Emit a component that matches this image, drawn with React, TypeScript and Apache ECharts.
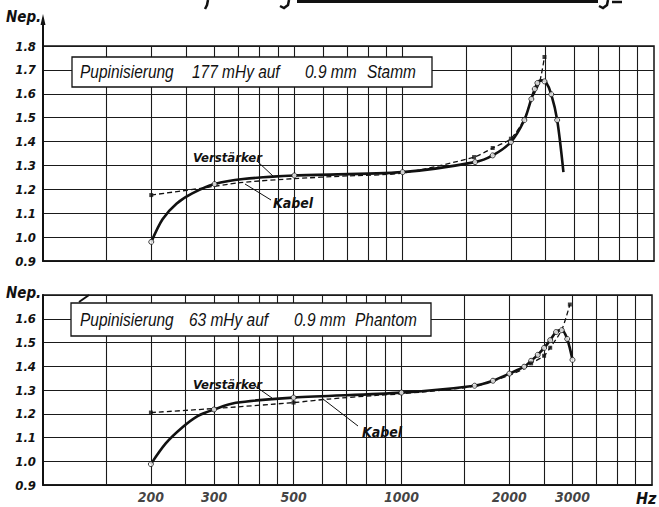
import React, { useEffect, useRef } from "react";
import * as echarts from "echarts";

// ---------- data ----------
const xGridLines = [150, 200, 250, 300, 350, 400, 450, 500, 600, 700, 800, 900, 1000, 1500, 2000, 2500, 3000, 3500, 4000, 4500];
const xTickLabels = [200, 300, 500, 1000, 2000, 3000];

// top panel: Stamm (177 mHy)
const topSolidCurve: number[][] = [
  [200, 0.98], [215, 1.075], [235, 1.14], [260, 1.183], [300, 1.222], [360, 1.243],
  [500, 1.258], [1000, 1.272], [1590, 1.314], [1780, 1.342], [2000, 1.398], [2180, 1.49],
  [2280, 1.578], [2370, 1.645], [2440, 1.656], [2500, 1.65], [2590, 1.598], [2690, 1.49], [2800, 1.272],
];
const topSolidMarks: number[][] = [
  [200, 0.98], [300, 1.222], [500, 1.258], [1000, 1.272], [1590, 1.314], [1780, 1.342], [2000, 1.398],
  [2180, 1.49], [2280, 1.578], [2330, 1.62], [2370, 1.645], [2480, 1.652], [2590, 1.598], [2690, 1.49],
];
const topDashedCurve: number[][] = [
  [200, 1.176], [277, 1.205], [353, 1.228], [500, 1.245], [700, 1.256], [1000, 1.268], [1580, 1.335],
  [1780, 1.373], [2000, 1.412], [2180, 1.495], [2280, 1.575], [2400, 1.645], [2480, 1.754],
];
const topDashedMarks: number[][] = [
  [200, 1.176], [1580, 1.335], [1780, 1.373], [2000, 1.412], [2480, 1.754],
];

// bottom panel: Phantom (63 mHy)
const botSolidCurve: number[][] = [
  [200, 0.988], [220, 1.075], [245, 1.143], [270, 1.19], [300, 1.218], [345, 1.246], [500, 1.268],
  [1000, 1.289], [1600, 1.318], [1800, 1.339], [2000, 1.369], [2200, 1.398], [2300, 1.423],
  [2400, 1.448], [2500, 1.477], [2600, 1.51], [2700, 1.544], [2800, 1.552], [2900, 1.515], [3000, 1.427],
];
const botSolidMarks: number[][] = [
  [200, 0.988], [300, 1.218], [500, 1.268], [1000, 1.289], [1600, 1.318], [1800, 1.339], [2000, 1.369],
  [2200, 1.398], [2300, 1.423], [2400, 1.448], [2500, 1.477], [2600, 1.51], [2700, 1.544], [2800, 1.552],
  [2900, 1.515], [3000, 1.427],
];
const botDashedCurve: number[][] = [
  [200, 1.205], [300, 1.222], [500, 1.247], [626, 1.262], [862, 1.278], [1000, 1.284], [1600, 1.316],
  [2000, 1.362], [2200, 1.39], [2300, 1.412], [2500, 1.444], [2600, 1.478], [2800, 1.553], [2950, 1.66],
];
const botDashedMarks: number[][] = [
  [200, 1.205], [500, 1.247], [2300, 1.412], [2500, 1.444], [2600, 1.478], [2950, 1.66],
];

const FONT = "'Liberation Sans Narrow','DejaVu Sans Condensed','Liberation Sans',Arial,sans-serif";
const INK = "#111";

export default function App() {
  const ref = useRef<HTMLDivElement>(null);
  useEffect(() => {
    if (!ref.current) return;
    const chart = echarts.init(ref.current, undefined, { renderer: "svg" });

    const lblStyle = { fontFamily: FONT, fontWeight: "bold" as const, fontStyle: "italic" as const, color: INK };

    const xAxisBase = (gi: number) => ({
      type: "log" as const,
      gridIndex: gi,
      logBase: 10,
      min: 100,
      max: 5000,
      axisLine: { show: true, lineStyle: { color: INK, width: 1.5 } },
      axisTick: { show: false },
      axisLabel: { show: false },
      splitLine: { show: false },
      minorTick: { show: false },
      minorSplitLine: { show: false },
    });
    const yAxisBase = (gi: number, max: number, hideTop: boolean) => ({
      type: "value" as const,
      gridIndex: gi,
      min: 0.9,
      max,
      interval: 0.1,
      axisLine: { show: true, lineStyle: { color: INK, width: 2 } },
      axisTick: { show: false },
      splitLine: { show: true, lineStyle: { color: "#1a1a1a", width: 1.1 } },
      axisLabel: {
        ...lblStyle,
        fontSize: 13,
        margin: 7,
        formatter: (v: number) => (hideTop && Math.abs(v - max) < 1e-6 ? "" : v.toFixed(1)),
      },
    });

    const gridSeries = (gi: number) => ({
      type: "line" as const,
      xAxisIndex: gi,
      yAxisIndex: gi,
      data: [[100, 0.9]],
      showSymbol: false,
      lineStyle: { opacity: 0 },
      silent: true,
      z: 1,
      markLine: {
        silent: true,
        symbol: ["none", "none"],
        label: { show: false },
        lineStyle: { color: "#1a1a1a", width: 1.1, type: "solid" as const },
        data: xGridLines.map((v) => ({ xAxis: v })),
        animation: false,
      },
    });

    const solid = (gi: number, d: number[][]) => ({
      type: "line" as const,
      xAxisIndex: gi,
      yAxisIndex: gi,
      data: d,
      smooth: 0.3,
      showSymbol: false,
      lineStyle: { color: INK, width: 2.6 },
      z: 5,
    });
    const dashed = (gi: number, d: number[][]) => ({
      type: "line" as const,
      xAxisIndex: gi,
      yAxisIndex: gi,
      data: d,
      smooth: 0.25,
      showSymbol: false,
      lineStyle: { color: INK, width: 1.3, type: [5, 3] as any },
      z: 4,
    });
    const circles = (gi: number, d: number[][]) => ({
      type: "scatter" as const,
      xAxisIndex: gi,
      yAxisIndex: gi,
      data: d,
      symbol: "circle",
      symbolSize: 5,
      itemStyle: { color: "#fff", borderColor: INK, borderWidth: 1 },
      z: 6,
    });
    const dots = (gi: number, d: number[][]) => ({
      type: "scatter" as const,
      xAxisIndex: gi,
      yAxisIndex: gi,
      data: d,
      symbol: "rect",
      symbolSize: 4,
      itemStyle: { color: INK },
      z: 6,
    });

    const annoText = (left: number, top: number, text: string, size = 14) => ({
      type: "text" as const,
      left,
      top,
      z: 50,
      style: { text, fontFamily: FONT, fontWeight: "bold", fontStyle: "italic", fontSize: size, fill: INK },
    });
    const leader = (x1: number, y1: number, x2: number, y2: number, w = 1) => ({
      type: "line" as const,
      z: 50,
      shape: { x1, y1, x2, y2 },
      style: { stroke: INK, lineWidth: w },
    });
    const boxText = (x: number, y: number, text: string) => ({
      type: "text" as const,
      x,
      y,
      scaleX: 0.86,
      z: 61,
      style: {
        text,
        x: 0,
        y: 0,
        fontFamily: "'Liberation Sans',Arial,sans-serif",
        fontStyle: "italic",
        fontSize: 18,
        fill: INK,
        verticalAlign: "middle",
        align: "left",
      },
    });

    chart.setOption({
      animation: false,
      backgroundColor: "#fff",
      grid: [
        { left: 43, top: 46, width: 611, height: 215, show: true, borderColor: INK, borderWidth: 1.5, backgroundColor: "transparent" },
        { left: 43, top: 295, width: 609, height: 190, show: true, borderColor: INK, borderWidth: 1.5, backgroundColor: "transparent" },
      ],
      xAxis: [xAxisBase(0), xAxisBase(1)],
      yAxis: [yAxisBase(0, 1.8, false), yAxisBase(1, 1.7, true)],
      series: [
        gridSeries(0),
        gridSeries(1),
        dashed(0, topDashedCurve),
        solid(0, topSolidCurve),
        circles(0, topSolidMarks),
        dots(0, topDashedMarks),
        dashed(1, botDashedCurve),
        solid(1, botSolidCurve),
        circles(1, botSolidMarks),
        dots(1, botDashedMarks),
        {
          type: "scatter",
          xAxisIndex: 1,
          yAxisIndex: 1,
          data: xTickLabels.map((v) => [v, 0.9]),
          symbolSize: 0,
          clip: false,
          silent: true,
          label: {
            show: true,
            position: "bottom",
            distance: 5,
            ...lblStyle,
            fontSize: 14,
            formatter: (p: any) => String(p.value[0]),
          },
          z: 7,
        },
      ],
      graphic: [
        // cut-off title remnants at the very top
        { type: "line", z: 40, shape: { x1: 297, y1: 1.5, x2: 598, y2: 1.5 }, style: { stroke: INK, lineWidth: 3 } },
        { type: "polyline", z: 40, shape: { points: [[208, 0], [207, 5], [205, 9]] }, style: { stroke: INK, lineWidth: 2.5, fill: "none" } },
        { type: "polyline", z: 40, shape: { points: [[289, 0], [288, 5], [284, 8], [280, 6]] }, style: { stroke: INK, lineWidth: 2.5, fill: "none" } },
        { type: "polyline", z: 40, shape: { points: [[608, 0], [607, 5], [603, 8], [599, 6]] }, style: { stroke: INK, lineWidth: 2.5, fill: "none" } },
        { type: "line", z: 40, shape: { x1: 612, y1: 2, x2: 622, y2: 2 }, style: { stroke: INK, lineWidth: 2.5 } },
        // y axis arrow (top)
        { type: "line", z: 40, shape: { x1: 43, y1: 46, x2: 43, y2: 22 }, style: { stroke: INK, lineWidth: 2 } },
        { type: "polygon", z: 40, shape: { points: [[43, 14], [40.5, 25], [45.5, 25]] }, style: { fill: INK } },
        annoText(6, 9, "Nep.", 15),
        annoText(6, 285, "Nep.", 15),
        annoText(636, 490, "Hz", 16),
        // title boxes
        { type: "rect", z: 60, shape: { x: 72, y: 57, width: 360, height: 30 }, style: { fill: "#fff", stroke: INK, lineWidth: 1.3 } },
        boxText(80, 72, "Pupinisierung"),
        boxText(192, 72, "177 mHy auf"),
        boxText(305, 72, "0.9 mm"),
        boxText(367, 72, "Stamm"),
        { type: "rect", z: 60, shape: { x: 71, y: 303, width: 360, height: 33 }, style: { fill: "#fff", stroke: INK, lineWidth: 1.3 } },
        boxText(80, 320, "Pupinisierung"),
        boxText(189, 320, "63 mHy auf"),
        boxText(294, 320, "0.9 mm"),
        boxText(355, 320, "Phantom"),
        { type: "line", z: 62, shape: { x1: 79, y1: 302, x2: 89, y2: 295 }, style: { stroke: INK, lineWidth: 2 } },
        // annotations
        annoText(193, 151, "Verstärker", 13),
        leader(257, 161, 273, 176),
        annoText(273, 196, "Kabel", 14),
        leader(245, 184, 271, 200),
        annoText(193, 378, "Verstärker", 13),
        leader(255, 386, 272, 398),
        annoText(362, 425, "Kabel", 14),
        leader(323, 399, 358, 426),
      ],
    });
    return () => chart.dispose();
  }, []);
  return <div ref={ref} style={{ position: "absolute", left: 0, top: 0, width: 659, height: 507 }} />;
}
